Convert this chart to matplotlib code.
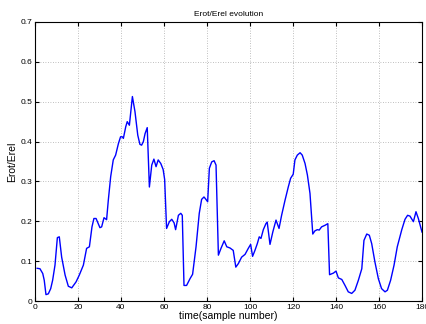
import numpy as np
import matplotlib
matplotlib.use("Agg")
import matplotlib.pyplot as plt

# sample index and Erot/Erel ratio at the plotted vertices
samples = [1, 2.3, 3.6, 4.3, 5.1, 6.2, 7.3, 8.2, 9.3, 10.4, 11.3, 12.4, 14, 15.5, 17.1,
           19.1, 20.6, 22.5, 24, 25.3, 26.5, 27.4, 28.4, 30.2, 31, 32.1, 33.3, 34.1, 35.2,
           36.4, 37.5, 38.8, 39.8, 40.6, 41.1, 42.2, 42.9, 43.9, 45.3, 46.5, 47.8, 48.8,
           49.6, 50.4, 51.2, 52.2, 53.2, 54.3, 55.3, 56.3, 57.3, 58.5, 59.6, 60.3, 61.2,
           62.5, 63.6, 64.7, 65.4, 66.7, 67.8, 68.5, 69.3, 70.5, 72.1, 73.3, 74.9, 76.4,
           77.5, 78.6, 79.5, 80.3, 81.1, 82.2, 83.3, 84.2, 85.3, 86.5, 88, 89.2, 90.7,
           92.2, 93.4, 94.6, 96.1, 97.7, 99.2, 100.3, 101.2, 102.3, 103.4, 104.3, 105.1,
           106.2, 107.4, 108, 109.3, 110.6, 112.1, 113.5, 114.7, 116.3, 117.8, 118.9,
           120.1, 120.9, 122, 123.3, 124.3, 125.6, 126.7, 127.9, 129.2, 130.2, 131.3,
           132.2, 133.3, 134.9, 136.2, 137, 138.8, 140, 141.1, 142.7, 144.2, 145.7, 147.3,
           148.8, 150.4, 152, 153, 154.3, 155.5, 156.6, 158.1, 159.7, 161.2, 162.8, 163.9,
           165.4, 167, 168.5, 170.6, 172.1, 173.3, 174.4, 176, 177.2, 178.3, 180]
ratio = [0.082, 0.081, 0.069, 0.052, 0.016, 0.018, 0.031, 0.052, 0.090, 0.159, 0.161,
         0.110, 0.065, 0.037, 0.033, 0.048, 0.065, 0.090, 0.132, 0.136, 0.186, 0.207,
         0.207, 0.184, 0.186, 0.209, 0.204, 0.253, 0.312, 0.354, 0.366, 0.395, 0.412,
         0.412, 0.408, 0.437, 0.450, 0.441, 0.513, 0.475, 0.416, 0.393, 0.391, 0.400,
         0.420, 0.435, 0.286, 0.341, 0.356, 0.337, 0.354, 0.345, 0.330, 0.305, 0.182,
         0.199, 0.205, 0.196, 0.179, 0.215, 0.220, 0.215, 0.039, 0.039, 0.056, 0.067,
         0.136, 0.220, 0.255, 0.261, 0.255, 0.249, 0.333, 0.349, 0.352, 0.341, 0.115,
         0.132, 0.151, 0.136, 0.133, 0.127, 0.085, 0.094, 0.110, 0.117, 0.132, 0.142,
         0.112, 0.127, 0.144, 0.161, 0.157, 0.179, 0.194, 0.198, 0.142, 0.173, 0.203,
         0.182, 0.215, 0.253, 0.286, 0.308, 0.318, 0.354, 0.366, 0.372, 0.366, 0.345,
         0.316, 0.270, 0.168, 0.176, 0.179, 0.178, 0.186, 0.190, 0.194, 0.066, 0.070,
         0.075, 0.058, 0.054, 0.039, 0.023, 0.019, 0.027, 0.052, 0.081, 0.152, 0.168,
         0.165, 0.144, 0.098, 0.056, 0.031, 0.023, 0.027, 0.052, 0.090, 0.136, 0.179,
         0.205, 0.215, 0.213, 0.199, 0.224, 0.207, 0.173]

plt.rcParams['font.family'] = ['Liberation Sans', 'DejaVu Sans']

fig = plt.figure(figsize=(4.26, 3.24), dpi=100)
ax = fig.add_axes([35 / 426, 23 / 324, 387 / 426, 279 / 324])

ax.plot(samples, ratio, color=(0, 0, 1), linewidth=1.0)

ax.set_xlim(0, 180)
ax.set_ylim(0, 0.7)
ax.set_xticks(np.arange(0, 181, 20))
ax.set_yticks(np.arange(0, 0.71, 0.1))
ax.set_yticklabels(["0", "0.1", "0.2", "0.3", "0.4", "0.5", "0.6", "0.7"])

ax.grid(True, linestyle=(0, (1, 2)), color="#aaaaaa", linewidth=0.6)
ax.tick_params(direction="in", top=True, right=True, labelsize=6, length=3, pad=2)
for sp in ax.spines.values():
    sp.set_linewidth(0.8)

ax.set_title("Erot/Erel evolution", fontsize=6, pad=4)
ax.set_xlabel("time(sample number)", fontsize=7.5, labelpad=0)
ax.set_ylabel("Erot/Erel", fontsize=7.5, labelpad=2)

fig.savefig("out.png", dpi=100)
